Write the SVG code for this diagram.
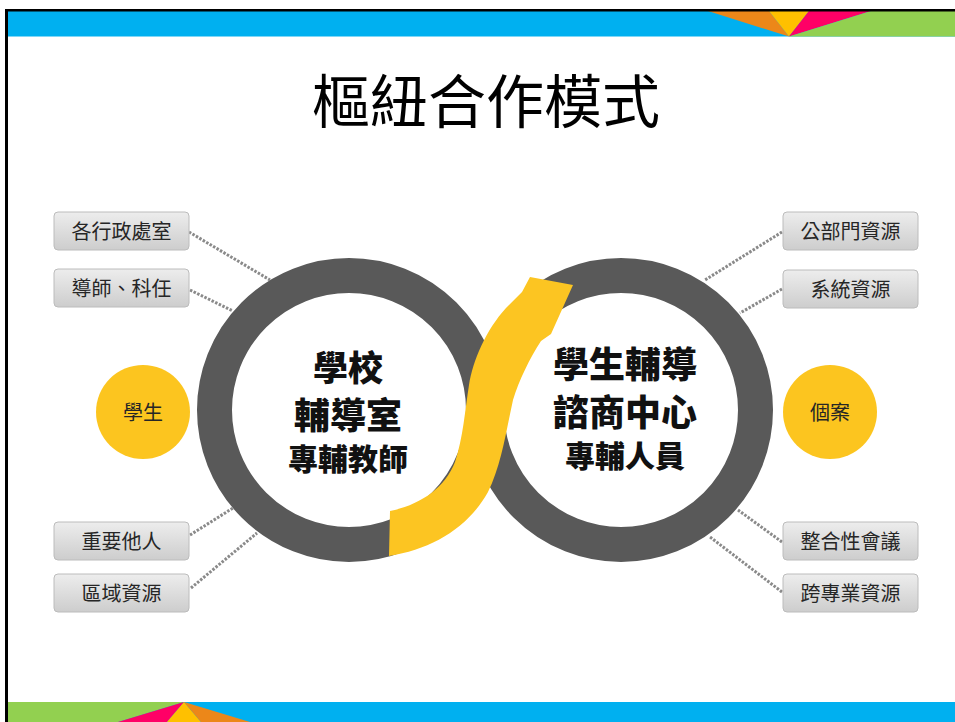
<svg xmlns="http://www.w3.org/2000/svg" width="955" height="722" viewBox="0 0 955 722">
<defs>
<linearGradient id="boxg" x1="0" y1="0" x2="0" y2="1">
<stop offset="0" stop-color="#ededed"/>
<stop offset="1" stop-color="#cdcdcd"/>
</linearGradient>
<style>
.box{fill:url(#boxg);stroke:#bcbcbc;stroke-width:1}
.bt{font-family:"Noto Sans CJK TC","Noto Sans CJK SC",sans-serif;font-size:20px;fill:#262626;text-anchor:middle}
.conn{stroke:#8a8a8a;stroke-width:3;stroke-dasharray:2.5 1.5;fill:none}
.ring{fill:none;stroke:#595959;stroke-width:35}
.yc{fill:#fcc51f}
.ct{font-family:"Noto Sans CJK TC","Noto Sans CJK SC",sans-serif;font-weight:900;fill:#111;text-anchor:middle}
</style>
</defs>
<rect width="955" height="722" fill="#ffffff"/>
<!-- top band -->
<g id="topband">
<rect x="5" y="11" width="950" height="25.5" fill="#00b0f0"/>
<polygon points="708,11 769,11 789,36.5" fill="#ec8719"/>
<polygon points="769,11 809,11 789,36.5" fill="#ffc000"/>
<polygon points="809,11 871,11 789,36.5" fill="#ff0066"/>
<polygon points="871,11 955,11 955,36.5 789,36.5" fill="#92d050"/>
<rect x="5" y="9" width="950" height="2.5" fill="#000"/>
</g>
<!-- bottom band -->
<g id="bottomband">
<rect x="8" y="702" width="947" height="20" fill="#00b0f0"/>
<polygon points="8,702 184,702 118,722 8,722" fill="#92d050"/>
<polygon points="184,702 118,722 167,722" fill="#ff0066"/>
<polygon points="184,702 167,722 201,722" fill="#ffc000"/>
<polygon points="184,702 201,722 250,722" fill="#ec8719"/>
</g>
<rect x="5" y="9" width="3" height="713" fill="#000"/>
<!-- title -->
<text id="title" x="486" y="123" font-family="'Noto Sans CJK TC','Noto Sans CJK SC',sans-serif" font-size="58" fill="#000" text-anchor="middle">樞紐合作模式</text>
<!-- connectors -->
<g id="connectors">
<line class="conn" x1="189" y1="232" x2="270" y2="280"/>
<line class="conn" x1="190" y1="290" x2="233" y2="311"/>
<line class="conn" x1="190" y1="535" x2="233" y2="508"/>
<line class="conn" x1="191" y1="588" x2="257" y2="533"/>
<line class="conn" x1="782" y1="232" x2="705" y2="280"/>
<line class="conn" x1="782" y1="289" x2="740" y2="313"/>
<line class="conn" x1="782" y1="542" x2="738" y2="510"/>
<line class="conn" x1="782" y1="592" x2="710" y2="537"/>
</g>
<!-- rings -->
<g id="ring-left"><circle class="ring" cx="349" cy="410" r="134.5"/></g>
<g id="ring-right"><circle class="ring" cx="621" cy="410" r="134.5"/></g>
<!-- arrow -->
<g id="arrow">
<path d="M 390 511 C 420 505, 445 488, 455 462 C 463 438, 465 410, 469 385 C 473 360, 486 330, 506 308 L 522 292 L 530 277 L 573 285 L 551 334 L 541 341 C 530 358, 519 380, 513 400 C 506 432, 501 466, 488 492 C 468 528, 432 549, 389 556 Z" fill="#fcc522"/>
</g>
<!-- center texts -->
<g id="node-school">
<text class="ct" x="348" y="381" font-size="35">學校</text>
<text class="ct" x="348" y="429" font-size="36">輔導室</text>
<text class="ct" x="348" y="470" font-size="30" font-weight="700">專輔教師</text>
</g>
<g id="node-center">
<text class="ct" x="625" y="378" font-size="36">學生輔導</text>
<text class="ct" x="625" y="426" font-size="36">諮商中心</text>
<text class="ct" x="625" y="467" font-size="30" font-weight="700">專輔人員</text>
</g>
<!-- yellow circles -->
<g id="node-student">
<circle class="yc" cx="143" cy="412" r="47"/>
<text class="bt" x="143" y="420" font-size="21">學生</text>
</g>
<g id="node-case">
<circle class="yc" cx="830" cy="412" r="47"/>
<text class="bt" x="830" y="420" font-size="21">個案</text>
</g>
<!-- boxes -->
<g id="box-admin"><rect class="box" x="54" y="212" width="135" height="38" rx="4"/><text class="bt" x="121.5" y="238.5">各行政處室</text></g>
<g id="box-teacher"><rect class="box" x="54" y="269" width="135" height="38" rx="4"/><text class="bt" x="121.5" y="295.5">導師、科任</text></g>
<g id="box-others"><rect class="box" x="54" y="522" width="135" height="38" rx="4"/><text class="bt" x="121.5" y="548.5">重要他人</text></g>
<g id="box-region"><rect class="box" x="54" y="574" width="135" height="38" rx="4"/><text class="bt" x="121.5" y="600.5">區域資源</text></g>
<g id="box-public"><rect class="box" x="783" y="212" width="135" height="38" rx="4"/><text class="bt" x="850.5" y="238.5">公部門資源</text></g>
<g id="box-system"><rect class="box" x="783" y="270" width="135" height="38" rx="4"/><text class="bt" x="850.5" y="296.5">系統資源</text></g>
<g id="box-meeting"><rect class="box" x="783" y="522" width="135" height="38" rx="4"/><text class="bt" x="850.5" y="548.5">整合性會議</text></g>
<g id="box-cross"><rect class="box" x="783" y="574" width="135" height="38" rx="4"/><text class="bt" x="850.5" y="600.5">跨專業資源</text></g>
</svg>
